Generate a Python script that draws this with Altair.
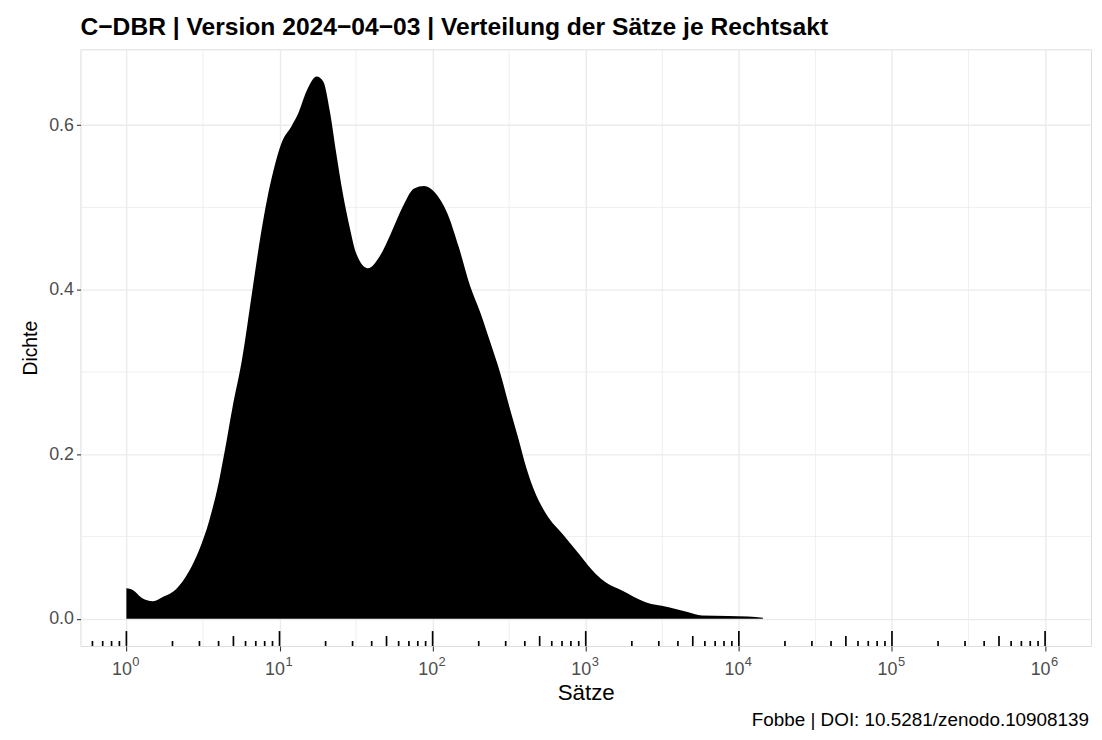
import altair as alt
import pandas as pd

# ---- data ----
saetze = [1.0, 1.1, 1.25, 1.49, 1.75, 2.11, 2.57, 2.99, 3.47, 4.02, 4.4, 4.91, 5.70,
          6.61, 7.50, 8.28, 9.14, 10.35, 12.0, 13.3, 15.0, 17.5, 19.3, 21.3, 23.5,
          25.9, 28.7, 31.7, 37.8, 44.9, 53.3, 63.5, 75.7, 87.9, 104.5, 124.5, 148,
          176, 205, 238, 275, 320, 363, 410, 454, 553, 710, 910, 1167, 1355, 1738,
          2460, 3483, 4688, 5728, 8511, 11482, 14355]
dichte = [0.037, 0.035, 0.026, 0.0213, 0.027, 0.036, 0.058, 0.084, 0.119, 0.167, 0.205,
          0.255, 0.316, 0.396, 0.464, 0.509, 0.545, 0.579, 0.599, 0.615, 0.641, 0.659,
          0.653, 0.617, 0.565, 0.517, 0.476, 0.444, 0.426, 0.440, 0.468, 0.500, 0.523,
          0.526, 0.517, 0.493, 0.452, 0.404, 0.372, 0.336, 0.300, 0.255, 0.219, 0.183,
          0.159, 0.127, 0.1025, 0.078, 0.054, 0.044, 0.034, 0.020, 0.014, 0.008, 0.004,
          0.0033, 0.0029, 0.0012]

x_major = [1, 10, 100, 1000, 10000, 100000, 1000000]
x_exp = ["0", "1", "2", "3", "4", "5", "6"]
x_minor = [3.1623, 31.623, 316.23, 3162.3, 31623, 316228]
y_major = [0.0, 0.2, 0.4, 0.6]
y_minor = [0.1, 0.3, 0.5]

log_long = [1, 10, 100, 1000, 10000, 100000, 1000000]
log_mid = [5, 50, 500, 5000, 50000, 500000]
log_short = [0.6, 0.7, 0.8, 0.9] + [k * 10 ** d for d in range(0, 6) for k in (2, 3, 4, 6, 7, 8, 9)]

title_text = "C\u2212DBR | Version 2024\u221204\u221203 | Verteilung der S\u00e4tze je Rechtsakt"
caption_text = "Fobbe | DOI: 10.5281/zenodo.10908139"

# ---- layout ----
W, H = 1018, 601
FONT = "Liberation Sans"
GRID = "#EBEBEB"

xscale = alt.Scale(type="log", domain=[10 ** -0.3, 10 ** 6.3], nice=False)
yscale = alt.Scale(domain=[-0.033, 0.692], nice=False, zero=False)

dens = pd.DataFrame({"Saetze": saetze, "Dichte": dichte})
ticks = pd.DataFrame({"v": x_major, "exp": x_exp})

xaxis = alt.Axis(values=x_major, labels=False, grid=True, gridColor=GRID, gridWidth=1.4,
                 tickSize=5, tickColor="#333333", tickWidth=1.1, domain=False,
                 title="Sätze", titleFont=FONT, titleFontSize=22.5, titleFontWeight="normal",
                 titleColor="black", titlePadding=30)
yaxis = alt.Axis(values=y_major, format=".1f", grid=True, gridColor=GRID, gridWidth=1.4,
                 tickSize=4, tickColor="#333333", tickWidth=1.1, domain=False,
                 labelFont=FONT, labelFontSize=18, labelColor="#4D4D4D", labelPadding=3,
                 title="Dichte", titleFont=FONT, titleFontSize=19.5, titleFontWeight="normal",
                 titleColor="black", titlePadding=8)

minor_x = alt.Chart(pd.DataFrame({"v": x_minor})).mark_rule(color=GRID, strokeWidth=0.8).encode(
    x=alt.X("v:Q", scale=xscale, axis=xaxis))
minor_y = alt.Chart(pd.DataFrame({"v": y_minor})).mark_rule(color=GRID, strokeWidth=0.8).encode(
    y=alt.Y("v:Q", scale=yscale, axis=yaxis))

area = alt.Chart(dens).mark_area(color="black", interpolate="monotone").encode(
    x=alt.X("Saetze:Q", scale=xscale),
    y=alt.Y("Dichte:Q", scale=yscale),
)

def logtick(vals, length):
    return alt.Chart(pd.DataFrame({"v": vals})).mark_rule(color="black", strokeWidth=1.7).encode(
        x=alt.X("v:Q", scale=xscale), y=alt.value(H), y2=alt.value(H - length))

lt_long = logtick(log_long, 15)
lt_mid = logtick(log_mid, 10)
lt_short = logtick(log_short, 5)

lab_base = alt.Chart(ticks).mark_text(font=FONT, fontSize=18, color="#4D4D4D", align="right",
                                      baseline="alphabetic", dx=5.5).encode(
    x=alt.X("v:Q", scale=xscale), y=alt.value(H + 29), text=alt.value("10"))
lab_exp = alt.Chart(ticks).mark_text(font=FONT, fontSize=13, color="#4D4D4D", align="left",
                                     baseline="alphabetic", dx=6).encode(
    x=alt.X("v:Q", scale=xscale), y=alt.value(H + 20), text="exp:N")

caption = alt.Chart(pd.DataFrame({"t": [caption_text]})).mark_text(
    font=FONT, fontSize=19, color="black", align="right", baseline="alphabetic").encode(
    x=alt.value(W - 2), y=alt.value(H + 81), text="t:N")

chart = alt.layer(minor_x, minor_y, area, lt_long, lt_mid, lt_short, lab_base, lab_exp, caption).properties(
    width=W, height=H,
    title=alt.TitleParams(title_text, anchor="start", frame="group", font=FONT, fontSize=24.8,
                          fontWeight="bold", color="black", offset=9),
    padding={"left": 73, "top": 39, "right": 3, "bottom": 84},
    autosize=alt.AutoSizeParams(type="none"),
).configure_view(stroke="#333333", strokeWidth=1.1).configure(background="white")

chart.save("out.html", embed_options={"renderer": "svg", "actions": False})
